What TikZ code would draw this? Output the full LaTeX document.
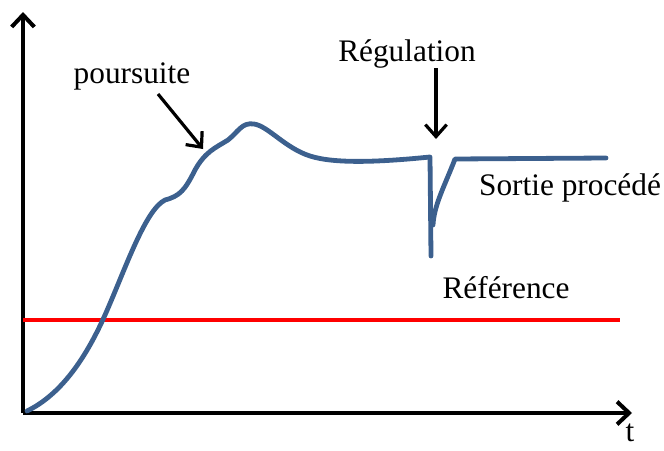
\documentclass[tikz,border=0pt]{standalone}
\usepackage{fontspec}
\setmainfont{LiberationSerif}[Extension=.ttf, UprightFont=*-Regular, BoldFont=*-Bold]
\usetikzlibrary{arrows.meta}
\definecolor{courbe}{RGB}{60,96,142}
\tikzset{
  axe/.style={line width=3pt, -{Straight Barb[length=9pt,width=17pt,line width=3pt]}},
  fleche/.style={line width=2.4pt, -{Straight Barb[length=9pt,width=16pt,line width=2.4pt]}},
  etiquette/.style={font=\fontsize{23.5}{28}\selectfont, inner sep=0pt},
  sortie/.style={courbe, line width=3.6pt, line cap=round, line join=round},
  consigne/.style={red, line width=2.6pt}
}

\begin{document}
\begin{tikzpicture}[x=0.75pt, y=-0.75pt]
\useasboundingbox (0,0) rectangle (664,450);
% axes
\coordinate (O) at (23,413);
\coordinate (ymax) at (23,12);
\coordinate (xmax) at (632,413);
\draw [axe] (O) -- (ymax);
\draw [axe] (O) -- (xmax);
\node [etiquette] (t) at (630,433) {t};
% reference
\coordinate (r0) at (23,320);
\coordinate (r1) at (620,320);
\draw [consigne] (r0) -- (r1);
% process output
\draw [sortie] (27,411) .. controls (60,395) and (85,360) .. (105,315)
   .. controls (125,270) and (145,210) .. (165,200)
   .. controls (180,196) and (185,190) .. (195,170)
   .. controls (205,152) and (215,148) .. (228,140)
   .. controls (238,132) and (242,122) .. (254,124)
   .. controls (268,126) and (285,148) .. (310,156)
   .. controls (335,164) and (380,162) .. (430,157)
   -- (431,256);
\draw [sortie] (433,225) .. controls (434,205) and (445,185) .. (455,159) -- (606,158);
% labels
\node [etiquette] (pours) at (132,76) {poursuite};
\coordinate (qpours) at (158,94);
\coordinate (ppours) at (203,149);
\draw [fleche] (qpours) -- (ppours);
\node [etiquette] (regul) at (407,54) {Régulation};
\coordinate (qregul) at (436,68);
\coordinate (pregul) at (436,139);
\draw [fleche] (qregul) -- (pregul);
\node [etiquette] (sort) at (570,188) {Sortie procédé};
\node [etiquette] (ref) at (506,288) {Référence};
\end{tikzpicture}
\end{document}
